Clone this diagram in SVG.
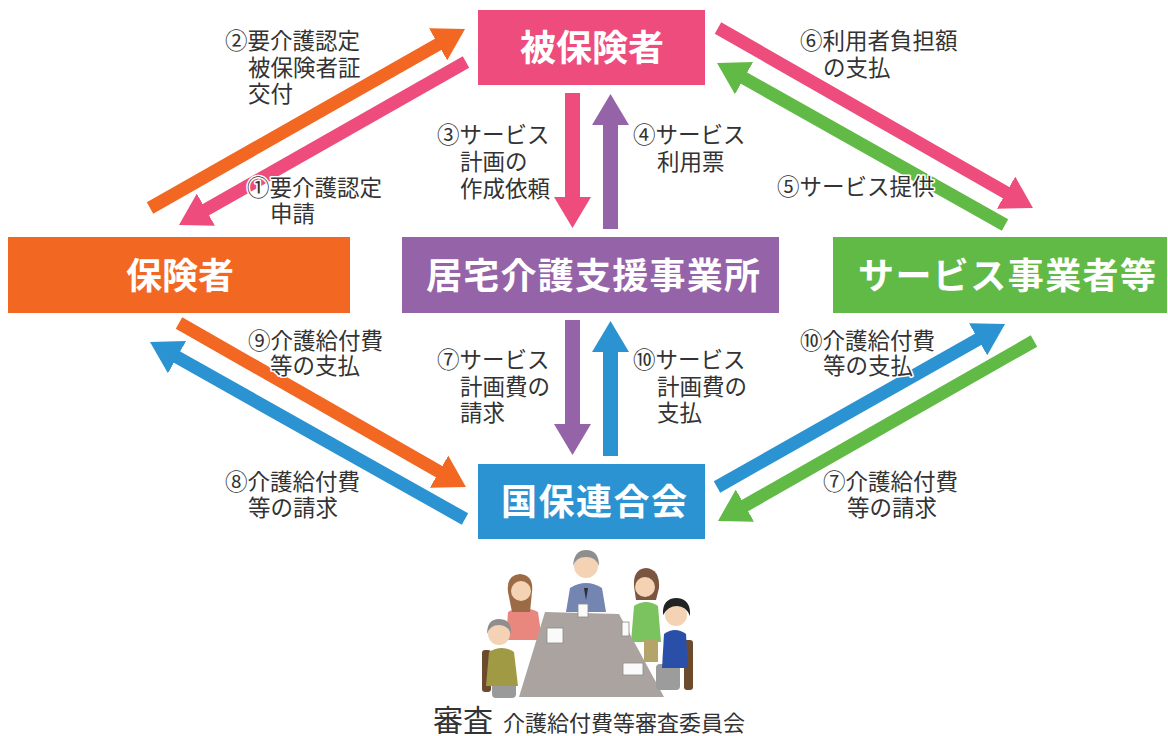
<svg xmlns="http://www.w3.org/2000/svg" width="1168" height="736" viewBox="0 0 1168 736">
  <style>
    .box-label { font-family: "Noto Sans CJK JP", "Noto Sans", sans-serif; font-size: 36px; font-weight: 700; fill: #ffffff; text-anchor: middle; }
    .lbl { font-family: "Noto Sans CJK JP", "Noto Sans", sans-serif; font-size: 22.5px; fill: #333333; stroke: #ffffff; stroke-width: 3px; stroke-linejoin: round; paint-order: stroke; }
    .cap { font-family: "Noto Sans CJK JP", "Noto Sans", sans-serif; fill: #333333; }
    .diag { fill: none; stroke-width: 13; stroke-linecap: butt; }
    .vert { fill: none; stroke-width: 15; stroke-linecap: butt; }
    .pink { stroke: #EE4C7C; }
    .orange { stroke: #F26722; }
    .purple { stroke: #9563A8; }
    .green { stroke: #62BA46; }
    .blue { stroke: #2B93D1; }
  </style>
  <defs>
    <marker id="ah-pink" viewBox="0 0 31 37" markerWidth="31" markerHeight="37" refX="2" refY="18.5" orient="auto" markerUnits="userSpaceOnUse"><path d="M0,0L31,18.5L0,37z" fill="#EE4C7C"/></marker>
    <marker id="ah-orange" viewBox="0 0 31 37" markerWidth="31" markerHeight="37" refX="2" refY="18.5" orient="auto" markerUnits="userSpaceOnUse"><path d="M0,0L31,18.5L0,37z" fill="#F26722"/></marker>
    <marker id="ah-purple" viewBox="0 0 31 37" markerWidth="31" markerHeight="37" refX="2" refY="18.5" orient="auto" markerUnits="userSpaceOnUse"><path d="M0,0L31,18.5L0,37z" fill="#9563A8"/></marker>
    <marker id="ah-green" viewBox="0 0 31 37" markerWidth="31" markerHeight="37" refX="2" refY="18.5" orient="auto" markerUnits="userSpaceOnUse"><path d="M0,0L31,18.5L0,37z" fill="#62BA46"/></marker>
    <marker id="ah-blue" viewBox="0 0 31 37" markerWidth="31" markerHeight="37" refX="2" refY="18.5" orient="auto" markerUnits="userSpaceOnUse"><path d="M0,0L31,18.5L0,37z" fill="#2B93D1"/></marker>
  </defs>

  <rect width="1168" height="736" fill="#ffffff"/>

  <!-- connectors -->
  <g id="connectors">
    <line class="diag orange" x1="150" y1="208" x2="439.8" y2="43.3" marker-end="url(#ah-orange)"/>
    <line class="diag pink" x1="466" y1="62" x2="204.2" y2="210.7" marker-end="url(#ah-pink)"/>
    <line class="diag pink" x1="718" y1="28" x2="1007.8" y2="193.6" marker-end="url(#ah-pink)"/>
    <line class="diag green" x1="1005" y1="225" x2="742.3" y2="77.2" marker-end="url(#ah-green)"/>
    <line class="diag orange" x1="179" y1="323" x2="440.8" y2="472.6" marker-end="url(#ah-orange)"/>
    <line class="diag blue" x1="465" y1="519" x2="175.3" y2="356.2" marker-end="url(#ah-blue)"/>
    <line class="diag blue" x1="717" y1="487" x2="979.8" y2="338.3" marker-end="url(#ah-blue)"/>
    <line class="diag green" x1="1034" y1="341" x2="743.2" y2="506.6" marker-end="url(#ah-green)"/>
    <line class="vert pink" x1="572.5" y1="93" x2="572.5" y2="199" marker-end="url(#ah-pink)"/>
    <line class="vert purple" x1="610.5" y1="229" x2="610.5" y2="123" marker-end="url(#ah-purple)"/>
    <line class="vert purple" x1="572.5" y1="320" x2="572.5" y2="426" marker-end="url(#ah-purple)"/>
    <line class="vert blue" x1="610.5" y1="456" x2="610.5" y2="350" marker-end="url(#ah-blue)"/>
  </g>

  <!-- nodes -->
  <g id="node-hihokensha">
    <rect x="478" y="10" width="227" height="75" fill="#EE4C7C"/>
    <text class="box-label" x="592" y="61">被保険者</text>
  </g>
  <g id="node-hokensha">
    <rect x="8" y="237" width="342" height="76" fill="#F26722"/>
    <text class="box-label" x="180" y="289">保険者</text>
  </g>
  <g id="node-kyotaku">
    <rect x="402" y="237" width="377" height="76" fill="#9563A8"/>
    <text class="box-label" x="593" y="289" textLength="334" lengthAdjust="spacing">居宅介護支援事業所</text>
  </g>
  <g id="node-service">
    <rect x="833" y="237" width="334" height="76" fill="#62BA46"/>
    <text class="box-label" x="1007" y="289" textLength="298" lengthAdjust="spacing">サービス事業者等</text>
  </g>
  <g id="node-kokuhoren">
    <rect x="478" y="464" width="227" height="75" fill="#2B93D1"/>
    <text class="box-label" x="594" y="515" textLength="186" lengthAdjust="spacing">国保連合会</text>
  </g>

  <!-- connector labels -->
  <g id="labels">
    <text class="lbl" x="225" y="49">②要介護認定</text>
    <text class="lbl" x="248" y="76">被保険者証</text>
    <text class="lbl" x="248" y="102">交付</text>

    <text class="lbl" x="247" y="196">①要介護認定</text>
    <text class="lbl" x="270" y="222">申請</text>

    <text class="lbl" x="437" y="143">③サービス</text>
    <text class="lbl" x="460" y="170">計画の</text>
    <text class="lbl" x="460" y="197">作成依頼</text>

    <text class="lbl" x="633" y="143">④サービス</text>
    <text class="lbl" x="657" y="170">利用票</text>

    <text class="lbl" x="800" y="49">⑥利用者負担額</text>
    <text class="lbl" x="823" y="76">の支払</text>

    <text class="lbl" x="777" y="195">⑤サービス提供</text>

    <text class="lbl" x="248" y="349">⑨介護給付費</text>
    <text class="lbl" x="270" y="374">等の支払</text>

    <text class="lbl" x="437" y="368">⑦サービス</text>
    <text class="lbl" x="460" y="395">計画費の</text>
    <text class="lbl" x="460" y="421">請求</text>

    <text class="lbl" x="633" y="368">⑩サービス</text>
    <text class="lbl" x="657" y="395">計画費の</text>
    <text class="lbl" x="657" y="421">支払</text>

    <text class="lbl" x="800" y="349">⑩介護給付費</text>
    <text class="lbl" x="823" y="374">等の支払</text>

    <text class="lbl" x="225" y="490">⑧介護給付費</text>
    <text class="lbl" x="248" y="516">等の請求</text>

    <text class="lbl" x="823" y="490">⑦介護給付費</text>
    <text class="lbl" x="847" y="516">等の請求</text>
  </g>

  <!-- review committee illustration -->
  <g id="committee">
    <!-- chairs -->
    <rect x="482" y="650" width="9" height="42" rx="3" fill="#6B4A2E"/>
    <rect x="684" y="640" width="9" height="50" rx="3" fill="#6B4A2E"/>
    <!-- person at the head of the table -->
    <path d="M566,612 L570,588 Q586,578 602,588 L606,612 Z" fill="#7385B0"/>
    <path d="M584,588 L586,600 L588,588 Z" fill="#2C2C3A"/>
    <circle cx="586" cy="566" r="12" fill="#F3D3B4"/>
    <path d="M573,566 Q574,550 586,550 Q599,550 599,566 Q596,557 586,557 Q576,557 573,566 Z" fill="#8E8E8E"/>
    <!-- person in pink -->
    <path d="M506,640 L508,612 Q522,604 538,612 L542,640 Z" fill="#E9877E"/>
    <path d="M508,592 Q506,575 520,574 Q534,575 532,592 L530,612 L512,612 Z" fill="#9C6B45"/>
    <circle cx="521" cy="591" r="10" fill="#F3D3B4"/>
    <!-- person in green -->
    <path d="M631,642 L634,606 Q646,598 658,606 L661,642 Z" fill="#7AC35E"/>
    <path d="M634,586 Q633,569 646,568 Q660,569 659,588 L656,600 L636,600 Z" fill="#7A5540"/>
    <circle cx="645" cy="587" r="10" fill="#F3D3B4"/>
    <rect x="644" y="640" width="14" height="22" fill="#B4A36A"/>
    <!-- table -->
    <path d="M545,612 L619,614 L664,697 L519,697 Z" fill="#ABA3A0"/>
    <!-- papers -->
    <rect x="547" y="628" width="16" height="15" fill="#FAFAFA" stroke="#8A8A8A" stroke-width="0.8"/>
    <rect x="623" y="663" width="20" height="12" fill="#FAFAFA" stroke="#8A8A8A" stroke-width="0.8"/>
    <rect x="622" y="622" width="7" height="14" fill="#FAFAFA" stroke="#8A8A8A" stroke-width="0.8"/>
    <rect x="578" y="604" width="10" height="13" fill="#FAFAFA" stroke="#8A8A8A" stroke-width="0.8"/>
    <!-- older person on the left -->
    <rect x="492" y="680" width="24" height="18" rx="4" fill="#9A9A9A"/>
    <path d="M486,686 L489,652 Q502,644 514,652 L518,686 Z" fill="#A09A45"/>
    <circle cx="499" cy="634" r="11" fill="#F3D3B4"/>
    <path d="M487,634 Q487,619 499,619 Q512,619 511,634 Q508,625 499,625 Q490,625 487,634 Z" fill="#8E8E8E"/>
    <!-- person in blue on the right -->
    <rect x="656" y="664" width="24" height="26" rx="4" fill="#9C9C9C"/>
    <path d="M662,668 L664,634 Q675,626 686,634 L688,668 Z" fill="#2A4FA8"/>
    <circle cx="676" cy="615" r="11" fill="#F3D3B4"/>
    <path d="M663,615 Q662,598 677,598 Q691,599 690,616 Q686,606 677,606 Q668,606 663,615 Z" fill="#222222"/>
  </g>

  <g id="caption">
    <text class="cap" x="433" y="731" font-size="30">審査</text>
    <text class="cap" x="503" y="731" font-size="22">介護給付費等審査委員会</text>
  </g>
</svg>
